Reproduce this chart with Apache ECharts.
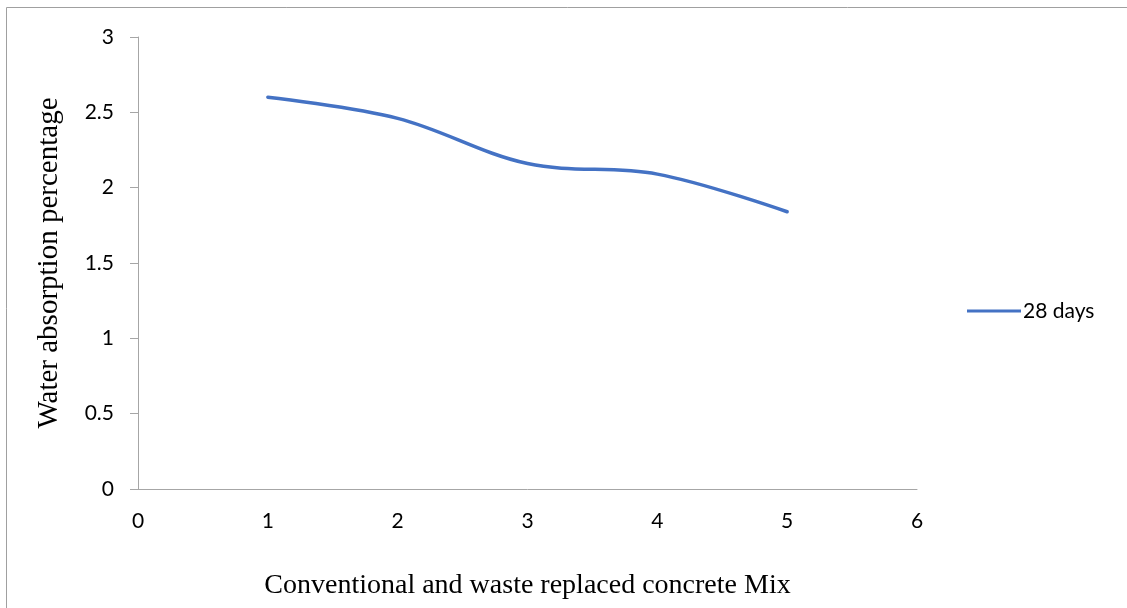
<!DOCTYPE html>
<html>
<head>
<meta charset="utf-8">
<script src="https://cdn.jsdelivr.net/npm/echarts@6/dist/echarts.min.js"></script>
<style>
  html, body { margin: 0; padding: 0; background: #fff; }
  #chart { width: 1127px; height: 608px; }
</style>
</head>
<body>
<div id="chart"></div>
<script>
// Mix number and 28-day water absorption (%)
const mixNumbers = [1, 2, 3, 4, 5];
const absorption28 = [2.60, 2.46, 2.16, 2.09, 1.84];
const seriesName = '28 days';
const xTitle = 'Conventional and waste replaced concrete Mix';
const yTitle = 'Water absorption percentage';

const chart = echarts.init(document.getElementById('chart'));
const axisGray = '#a6a6a6';
const labelFont = { fontFamily: 'Lato', fontSize: 21, color: '#000' };
const titleFont = { fontFamily: 'Liberation Serif', fontSize: 29, color: '#000' };

chart.setOption({
  animation: false,
  graphic: [{
    type: 'rect',
    shape: { x: 6.5, y: 7.5, width: 1200, height: 700 },
    style: { fill: 'none', stroke: '#a0a0a0', lineWidth: 1 },
    silent: true
  }],
  legend: {
    orient: 'vertical',
    left: 962,
    top: 293,
    itemWidth: 54,
    itemHeight: 3,
    itemGap: 4,
    icon: 'rect',
    textStyle: { fontFamily: 'Lato', fontSize: 21, lineHeight: 26, color: '#000', padding: [0, 0, 0, -3] },
    data: [seriesName]
  },
  grid: { left: 138, right: 210, top: 37, bottom: 119 },
  xAxis: {
    type: 'value',
    min: 0, max: 6, interval: 1,
    name: xTitle,
    nameLocation: 'middle',
    nameGap: 83,
    nameTextStyle: Object.assign({}, titleFont, { fontSize: 28 }),
    axisLine: { lineStyle: { color: axisGray, width: 1 } },
    axisTick: { show: false },
    splitLine: { show: false },
    axisLabel: Object.assign({ margin: 22 }, labelFont)
  },
  yAxis: {
    type: 'value',
    min: 0, max: 3, interval: 0.5,
    name: yTitle,
    nameLocation: 'middle',
    nameGap: 74,
    nameRotate: 90,
    nameTextStyle: titleFont,
    axisLine: { show: true, lineStyle: { color: axisGray, width: 1 } },
    axisTick: { show: true, length: 8, lineStyle: { color: axisGray } },
    splitLine: { show: false },
    axisLabel: Object.assign({ margin: 24 }, labelFont)
  },
  series: [{
    name: seriesName,
    type: 'line',
    data: mixNumbers.map((m, i) => [m, absorption28[i]]),
    smooth: 0.35,
    showSymbol: false,
    symbol: 'none',
    lineStyle: { color: '#4472C4', width: 3.5, cap: 'round' },
    itemStyle: { color: '#4472C4' }
  }]
});
</script>
</body>
</html>
